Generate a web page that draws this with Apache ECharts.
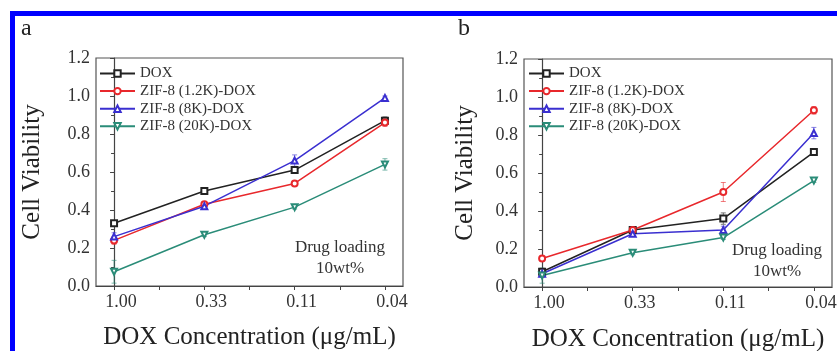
<!DOCTYPE html>
<html>
<head>
<meta charset="utf-8">
<script src="https://cdn.jsdelivr.net/npm/echarts@6/dist/echarts.min.js"></script>
<style>
  html, body { margin: 0; padding: 0; background: #fff; }
  #main { width: 837px; height: 351px; }
</style>
</head>
<body>
<div id="main"></div>
<script>
// x categories (DOX concentration, μg/mL)
const categories = ['1.00', '0.33', '0.11', '0.04'];
const seriesNames = ['DOX', 'ZIF-8 (1.2K)-DOX', 'ZIF-8 (8K)-DOX', 'ZIF-8 (20K)-DOX'];

// panel a
const aDox   = [0.33, 0.50, 0.61, 0.87];
const aK12   = [0.24, 0.43, 0.54, 0.86];
const aK8    = [0.26, 0.42, 0.66, 0.99];
const aK20   = [0.075, 0.27, 0.415, 0.64];
const aDoxErr = [0.01, 0.01, 0.01, 0.02];
const aK12Err = [0.02, 0.01, 0.01, 0.02];
const aK8Err  = [0.02, 0.01, 0.03, 0.01];
const aK20Err = [0.06, 0.01, 0.01, 0.03];

// panel b
const bDox   = [0.08, 0.30, 0.36, 0.71];
const bK12   = [0.15, 0.30, 0.50, 0.93];
const bK8    = [0.07, 0.28, 0.30, 0.81];
const bK20   = [0.06, 0.18, 0.26, 0.56];
const bDoxErr = [0.01, 0.01, 0.03, 0.01];
const bK12Err = [0.01, 0.01, 0.05, 0.02];
const bK8Err  = [0.02, 0.01, 0.02, 0.03];
const bK20Err = [0.04, 0.01, 0.01, 0.01];

const colors = ['#222222', '#e8282c', '#3a2fd0', '#2a8c78'];
const symbols = ['emptyRect', 'emptyCircle', 'emptyTriangle', 'emptyTriangle'];
const rotates = [0, 0, 0, 180];
const serif = 'Liberation Serif';

const myChart = echarts.init(document.getElementById('main'));

function xAxisFor(gridIndex, gap) {
  return {
    type: 'value', gridIndex: gridIndex, min: -0.2, max: 3.2,
    name: 'DOX Concentration (μg/mL)', nameLocation: 'middle', nameGap: gap,
    nameTextStyle: { fontFamily: serif, fontSize: 25, color: '#222' },
    axisLine: { lineStyle: { color: '#444', width: 1.2 } },
    axisTick: { customValues: [0, 0.5, 1, 1.5, 2, 2.5, 3], length: 4, lineStyle: { color: '#444' } },
    axisLabel: {
      customValues: [0, 1, 2, 3], margin: 7, padding: [0, 0, 0, 14],
      hideOverlap: false,
      formatter: v => categories[Math.round(v)],
      fontFamily: serif, fontSize: 18, color: '#333'
    },
    splitLine: { show: false }
  };
}

function yAxisFor(gridIndex, gap) {
  return {
    type: 'value', gridIndex: gridIndex, min: 0, max: 1.2, interval: 0.2,
    name: 'Cell Viability', nameLocation: 'middle', nameGap: gap, nameRotate: 90,
    nameTextStyle: { fontFamily: serif, fontSize: 25, color: '#222' },
    axisLine: { show: true, lineStyle: { color: '#444', width: 1.2 } },
    axisTick: { show: true, length: 4, lineStyle: { color: '#444' } },
    minorTick: { show: true, splitNumber: 2, length: 3, lineStyle: { color: '#444' } },
    axisLabel: {
      formatter: v => v.toFixed(1), margin: 6,
      fontFamily: serif, fontSize: 18, color: '#333'
    },
    splitLine: { show: false }
  };
}

function lineSeries(idx, values, gridIndex) {
  return {
    type: 'line', name: seriesNames[idx],
    xAxisIndex: gridIndex, yAxisIndex: gridIndex,
    data: values.map((v, i) => [i, v]),
    symbol: symbols[idx], symbolRotate: rotates[idx], symbolSize: 6,
    color: colors[idx],
    lineStyle: { color: colors[idx], width: 1.5 },
    itemStyle: { color: colors[idx], borderWidth: 1 },
    z: 3
  };
}

function errorSeries(idx, values, errs, gridIndex) {
  return {
    type: 'custom', name: seriesNames[idx] + ' err',
    xAxisIndex: gridIndex, yAxisIndex: gridIndex,
    data: values.map((v, i) => [i, v - errs[i], v + errs[i]]),
    renderItem: function (params, api) {
      const lo = api.coord([api.value(0), api.value(1)]);
      const hi = api.coord([api.value(0), api.value(2)]);
      const w = 2.5;
      const style = { stroke: colors[idx], lineWidth: 1, opacity: 0.6 };
      return {
        type: 'group',
        children: [
          { type: 'line', shape: { x1: lo[0], y1: lo[1], x2: hi[0], y2: hi[1] }, style: style },
          { type: 'line', shape: { x1: lo[0] - w, y1: lo[1], x2: lo[0] + w, y2: lo[1] }, style: style },
          { type: 'line', shape: { x1: hi[0] - w, y1: hi[1], x2: hi[0] + w, y2: hi[1] }, style: style }
        ]
      };
    },
    z: 2
  };
}

const legendBase = {
  orient: 'vertical', data: seriesNames,
  itemWidth: 35, itemHeight: 8, itemGap: 2.6, padding: 0,
  textStyle: { fontFamily: serif, fontSize: 15, color: '#333' }
};

const gridBase = {
  show: true, borderColor: '#555', borderWidth: 1.2, backgroundColor: 'transparent',
  outerBoundsMode: 'none', containLabel: false
};

const option = {
  animation: false,
  backgroundColor: '#fff',
  color: colors,
  grid: [
    Object.assign({ left: 96, top: 58, width: 307, height: 228 }, gridBase),
    Object.assign({ left: 524, top: 59, width: 308, height: 228 }, gridBase)
  ],
  legend: [
    Object.assign({ left: 99, top: 66 }, legendBase),
    Object.assign({ left: 528, top: 66 }, legendBase)
  ],
  xAxis: [xAxisFor(0, 39), xAxisFor(1, 40)],
  yAxis: [yAxisFor(0, 51), yAxisFor(1, 46)],
  series: [
    errorSeries(0, aDox, aDoxErr, 0), errorSeries(1, aK12, aK12Err, 0),
    errorSeries(2, aK8, aK8Err, 0), errorSeries(3, aK20, aK20Err, 0),
    lineSeries(0, aDox, 0), lineSeries(1, aK12, 0), lineSeries(2, aK8, 0), lineSeries(3, aK20, 0),
    errorSeries(0, bDox, bDoxErr, 1), errorSeries(1, bK12, bK12Err, 1),
    errorSeries(2, bK8, bK8Err, 1), errorSeries(3, bK20, bK20Err, 1),
    lineSeries(0, bDox, 1), lineSeries(1, bK12, 1), lineSeries(2, bK8, 1), lineSeries(3, bK20, 1)
  ],
  graphic: [
    // blue frame
    { type: 'rect', shape: { x: 10, y: 11, width: 827, height: 5 }, style: { fill: '#0000ff' } },
    { type: 'rect', shape: { x: 10, y: 11, width: 5, height: 340 }, style: { fill: '#0000ff' } },
    // panel letters
    { type: 'text', left: 21, top: 17, style: { text: 'a', font: '24px "Liberation Serif"', fill: '#222' } },
    { type: 'text', left: 458, top: 17, style: { text: 'b', font: '24px "Liberation Serif"', fill: '#222' } },
    // annotations
    { type: 'text', x: 340, y: 237, style: { text: 'Drug loading\n10wt%', font: '17px "Liberation Serif"', fill: '#333', align: 'center', lineHeight: 21 } },
    { type: 'text', x: 777, y: 240, style: { text: 'Drug loading\n10wt%', font: '17px "Liberation Serif"', fill: '#333', align: 'center', lineHeight: 21 } }
  ]
};

myChart.setOption(option);
</script>
</body>
</html>
